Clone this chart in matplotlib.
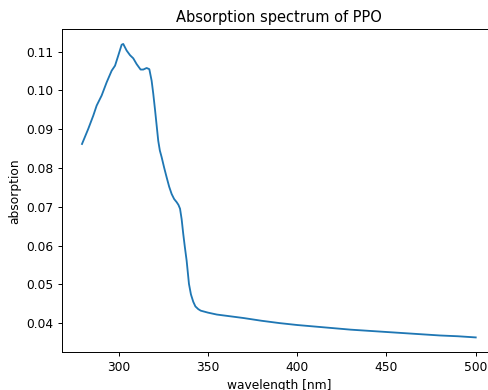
import matplotlib
matplotlib.use("Agg")
import matplotlib.pyplot as plt

# wavelength [nm] and absorption
wavelength = [279.5, 283.0, 285.8, 287.7, 290.5, 293.3, 296.1, 298.0, 299.8,
              301.7, 302.6, 304.5, 306.4, 308.2, 310.1, 312.3, 313.8, 315.7,
              317.2, 318.5, 319.4, 320.4, 321.3, 322.2, 323.1, 324.1, 325.5,
              326.9, 328.3, 329.7, 331.1, 332.5, 333.5, 334.4, 335.3, 336.2,
              337.1, 338.1, 339.4, 340.5, 341.8, 343.0, 344.6, 346.0, 350.0,
              355.0, 360.0, 370.0, 380.0, 390.0, 400.0, 410.0, 420.0, 430.0,
              440.0, 450.0, 460.0, 470.0, 480.0, 490.0, 500.0]
absorption = [0.0862, 0.0901, 0.0935, 0.0961, 0.0987, 0.1021, 0.1051, 0.1064,
              0.1090, 0.1118, 0.1120, 0.1103, 0.1091, 0.1083, 0.1068, 0.1054,
              0.1054, 0.1058, 0.1055, 0.1025, 0.0992, 0.0950, 0.0910, 0.0870,
              0.0845, 0.0828, 0.0801, 0.0776, 0.0752, 0.0733, 0.0720, 0.0712,
              0.0705, 0.0695, 0.0668, 0.0630, 0.0596, 0.0561, 0.0501, 0.0474,
              0.0455, 0.0443, 0.0436, 0.0432, 0.0427, 0.0422, 0.0419, 0.0413,
              0.0406, 0.0400, 0.0395, 0.0391, 0.0387, 0.0383, 0.0380, 0.0377,
              0.0374, 0.0371, 0.0368, 0.0366, 0.0363]

# reference looks like a default figure shrunk by ~0.88, so draw at 88 dpi
dpi = 88
fig = plt.figure(figsize=(488 / dpi, 390 / dpi), dpi=dpi)
ax = fig.add_axes([0.1277, 0.0972, 0.8875, 0.8277])

ax.plot(wavelength, absorption)
ax.set_title("Absorption spectrum of PPO")
ax.set_xlabel("wavelength [nm]")
ax.set_ylabel("absorption")

fig.savefig("out.png", dpi=dpi)
plt.close(fig)
